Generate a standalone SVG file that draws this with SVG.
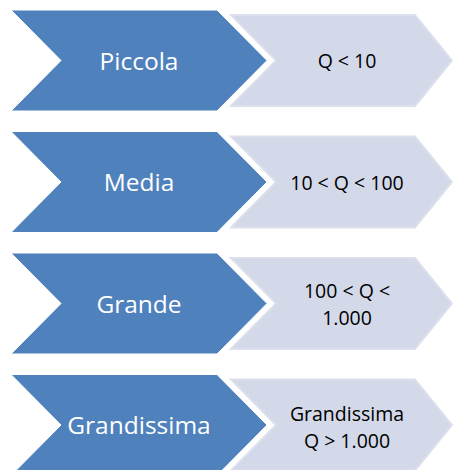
<svg xmlns="http://www.w3.org/2000/svg" width="453" height="470" viewBox="0 0 453 470">
  <style>
    .dark { fill: #4F81BD; stroke: #FFFFFF; stroke-width: 1; }
    .light { fill: #D3D9E9; stroke: #DCE0EC; stroke-width: 2; stroke-linejoin: miter; }
    .lbl { font-family: "Open Sans", "Liberation Sans", sans-serif; font-size: 24.5px; fill: #FFFFFF; text-anchor: middle; }
    .val { font-family: "Open Sans", "Liberation Sans", sans-serif; font-size: 19.5px; fill: #000000; text-anchor: middle; }
  </style>
  <defs>
    <polygon id="chev-dark" class="dark" points="11,0 217,0 267,50.5 217,101 11,101 61,50.5"/>
    <polygon id="chev-light" class="light" points="231,5 415,5 452,50.5 415,96 231,96 276,50.5"/>
  </defs>
  <rect width="453" height="470" fill="#FFFFFF"/>

  <g id="row-piccola" transform="translate(0,10)">
    <use href="#chev-light"/>
    <use href="#chev-dark"/>
    <text class="lbl" x="139" y="59.5">Piccola</text>
    <text class="val" x="347" y="58">Q &lt; 10</text>
  </g>

  <g id="row-media" transform="translate(0,131.5)">
    <use href="#chev-light"/>
    <use href="#chev-dark"/>
    <text class="lbl" x="139" y="59.5">Media</text>
    <text class="val" x="347" y="58">10 &lt; Q &lt; 100</text>
  </g>

  <g id="row-grande" transform="translate(0,253)">
    <use href="#chev-light"/>
    <use href="#chev-dark"/>
    <text class="lbl" x="139" y="59.5">Grande</text>
    <text class="val" x="347" y="44.5">100 &lt; Q &lt;</text>
    <text class="val" x="347" y="71.5">1.000</text>
  </g>

  <g id="row-grandissima" transform="translate(0,374.5)">
    <use href="#chev-light"/>
    <use href="#chev-dark"/>
    <text class="lbl" x="139" y="59.5">Grandissima</text>
    <text class="val" x="347" y="46">Grandissima</text>
    <text class="val" x="347" y="73">Q &gt; 1.000</text>
  </g>

  <g id="connectors"/>
</svg>
